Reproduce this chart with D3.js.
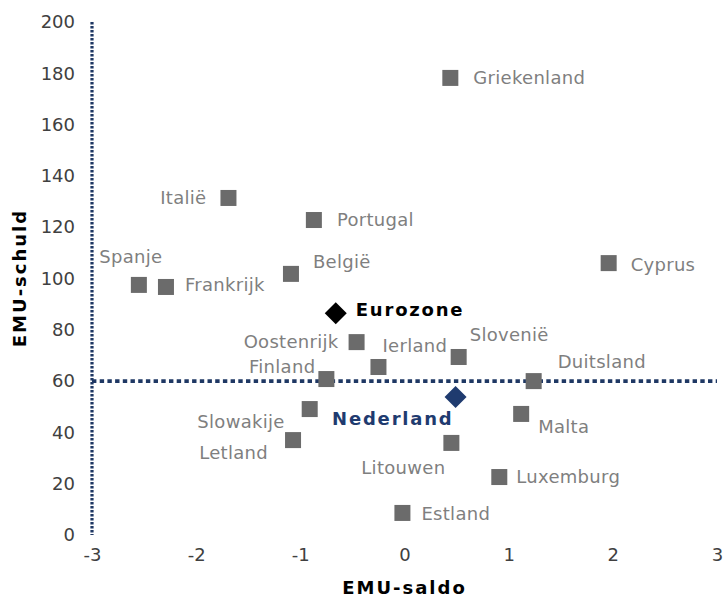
<!DOCTYPE html>
<html>
<head>
<meta charset="utf-8">
<script src="https://cdn.jsdelivr.net/npm/d3@7"></script>
<style>
  body { margin: 0; background: #fff; }
  svg { display: block; font-family: "DejaVu Sans", Verdana, sans-serif; }
</style>
</head>
<body>
<div id="chart"></div>
<script>

//******************************************************************************
//**  Data
//******************************************************************************
var countries = ["Griekenland","Italië","Portugal","Spanje","Frankrijk","België",
    "Cyprus","Oostenrijk","Ierland","Slovenië","Finland","Duitsland","Slowakije",
    "Malta","Letland","Litouwen","Luxemburg","Estland"];
var saldo = [0.44,-1.69,-0.87,-2.55,-2.29,-1.09,1.96,-0.46,-0.25,0.52,-0.75,1.24,
    -0.91,1.12,-1.07,0.45,0.91,-0.02];
var schuld = [178.2,131.4,122.8,97.5,96.7,101.8,106.0,75.2,65.5,69.4,60.8,60.0,
    49.1,47.2,37.0,35.9,22.6,8.6];

var highlights = ["Eurozone","Nederland"];
var highlightSaldo = [-0.66,0.49];
var highlightSchuld = [86.5,53.8];

var xTicks = [-3,-2,-1,0,1,2,3];
var yTicks = [0,20,40,60,80,100,120,140,160,180,200];
var refSaldo = -3;   //vertical reference line
var refSchuld = 60;  //horizontal reference line


//******************************************************************************
//**  Label placement (pixel offsets from the marker)
//******************************************************************************
var labelPos = {
    "Griekenland": [23, 0, "start"],
    "Italië": [-22, 0, "end"],
    "Portugal": [23, 0, "start"],
    "Spanje": [-8, -28, "middle"],
    "Frankrijk": [19, -2, "start"],
    "België": [22, -12, "start"],
    "Cyprus": [22, 2, "start"],
    "Oostenrijk": [-18, 0, "end"],
    "Ierland": [4, -21, "start"],
    "Slovenië": [11, -22, "start"],
    "Finland": [-11, -12, "end"],
    "Duitsland": [24, -19, "start"],
    "Slowakije": [-25, 13, "end"],
    "Malta": [17, 13, "start"],
    "Letland": [-25, 13, "end"],
    "Litouwen": [-6, 25, "end"],
    "Luxemburg": [17, 0, "start"],
    "Estland": [19, 1, "start"],
    "Eurozone": [20, -3, "start"],
    "Nederland": [-2, 22, "end"]
};
var highlightColors = ["#000000","#1f3b6f"];


//******************************************************************************
//**  Chart
//******************************************************************************
var width = 725, height = 599;

var svg = d3.select("#chart").append("svg")
    .attr("width", width)
    .attr("height", height);

var x = d3.scaleLinear().domain([-3, 3]).range([92, 717]);
var y = d3.scaleLinear().domain([0, 200]).range([535, 22]);


  //**************************************************************************
  //** Axes (labels only, no domain line)
  //**************************************************************************
    var xAxis = svg.append("g")
        .attr("transform", "translate(0," + 548 + ")")
        .call(d3.axisBottom(x).tickValues(xTicks).tickSize(0).tickPadding(0)
        .tickFormat(function(d){ return String(d); }));
    xAxis.select(".domain").remove();
    xAxis.selectAll("text")
        .attr("dy", "0.71em")
        .style("font-size", "18px")
        .style("font-family", "DejaVu Sans, Verdana, sans-serif")
        .attr("fill", "#404040");

    var yAxis = svg.append("g")
        .attr("transform", "translate(" + 75 + ",0)")
        .call(d3.axisLeft(y).tickValues(yTicks).tickSize(0).tickPadding(0));
    yAxis.select(".domain").remove();
    yAxis.selectAll("text")
        .style("font-size", "18px")
        .style("font-family", "DejaVu Sans, Verdana, sans-serif")
        .attr("fill", "#404040");

    svg.append("text")
        .attr("x", x(0))
        .attr("y", 594)
        .attr("text-anchor", "middle")
        .style("font-size", "18px")
        .style("font-weight", "bold")
        .style("letter-spacing", "2px")
        .attr("fill", "#000")
        .text("EMU-saldo");

    svg.append("text")
        .attr("transform", "translate(26," + 278 + ") rotate(-90)")
        .attr("text-anchor", "middle")
        .style("font-size", "18px")
        .style("font-weight", "bold")
        .style("letter-spacing", "2px")
        .attr("fill", "#000")
        .text("EMU-schuld");


  //**************************************************************************
  //** Reference lines
  //**************************************************************************
    svg.append("line")
        .attr("x1", x(refSaldo)).attr("x2", x(refSaldo))
        .attr("y1", y(200)).attr("y2", y(0))
        .attr("stroke", "#1f3864")
        .attr("stroke-width", 3.2)
        .attr("stroke-dasharray", "2.6,1.4");

    svg.append("line")
        .attr("x1", x(-3)).attr("x2", x(3))
        .attr("y1", y(refSchuld)).attr("y2", y(refSchuld))
        .attr("stroke", "#1f3864")
        .attr("stroke-width", 3.6)
        .attr("stroke-dasharray", "4.4,3.3");


  //**************************************************************************
  //** Country markers
  //**************************************************************************
    var pts = countries.map(function(c, i){
        return {name: c, saldo: saldo[i], schuld: schuld[i]};
    });

    var sq = 16;
    svg.append("g").selectAll("rect")
        .data(pts)
        .enter().append("rect")
        .attr("x", function(d){ return x(d.saldo) - sq/2; })
        .attr("y", function(d){ return y(d.schuld) - sq/2; })
        .attr("width", sq)
        .attr("height", sq)
        .attr("fill", "#6b6b6b");

    svg.append("g").selectAll("text")
        .data(pts)
        .enter().append("text")
        .attr("x", function(d){ return x(d.saldo) + labelPos[d.name][0]; })
        .attr("y", function(d){ return y(d.schuld) + labelPos[d.name][1]; })
        .attr("dy", "0.35em")
        .attr("text-anchor", function(d){ return labelPos[d.name][2]; })
        .style("font-size", "18px")
        .style("letter-spacing", "0.3px")
        .attr("fill", "#7f7f7f")
        .text(function(d){ return d.name; });


  //**************************************************************************
  //** Highlighted aggregates (diamonds)
  //**************************************************************************
    var hl = highlights.map(function(c, i){
        return {name: c, saldo: highlightSaldo[i], schuld: highlightSchuld[i], color: highlightColors[i]};
    });

    svg.append("g").selectAll("path")
        .data(hl)
        .enter().append("path")
        .attr("transform", function(d){
            return "translate(" + x(d.saldo) + "," + y(d.schuld) + ")";
        })
        .attr("d", "M0,-11L11,0L0,11L-11,0Z")
        .attr("fill", function(d){ return d.color; });

    svg.append("g").selectAll("text")
        .data(hl)
        .enter().append("text")
        .attr("x", function(d){ return x(d.saldo) + labelPos[d.name][0]; })
        .attr("y", function(d){ return y(d.schuld) + labelPos[d.name][1]; })
        .attr("dy", "0.35em")
        .attr("text-anchor", function(d){ return labelPos[d.name][2]; })
        .style("font-size", "18px")
        .style("font-weight", "bold")
        .style("letter-spacing", "1.8px")
        .attr("fill", function(d){ return d.color; })
        .text(function(d){ return d.name; });

</script>
</body>
</html>
